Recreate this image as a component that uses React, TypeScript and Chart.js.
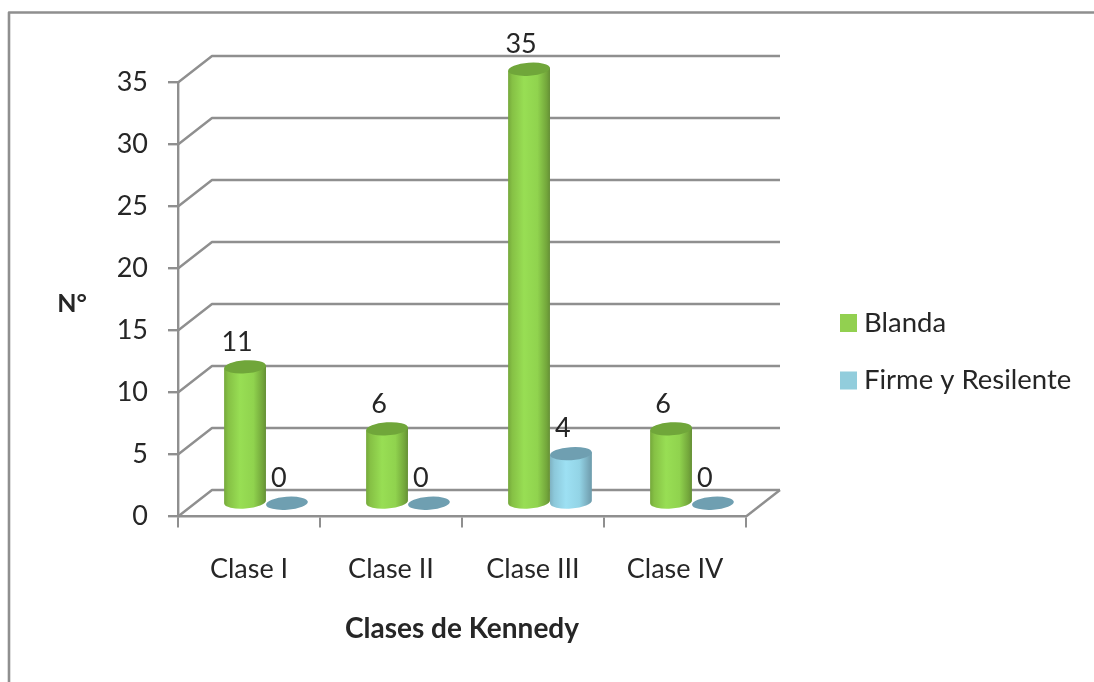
import React, { useEffect, useRef } from "react";
import { Chart, registerables } from "chart.js";

Chart.register(...registerables);

const categories = ["Clase I", "Clase II", "Clase III", "Clase IV"];
const blanda = [11, 6, 35, 6];
const firme = [0, 0, 4, 0];
const seriesNames = ["Blanda", "Firme y Resilente"];
const xTitle = "Clases de Kennedy";
const yTitle = "N°";

const GREY = "#8f8f8f";
const TEXT = "#262626";
const FONT = "Lato, Carlito, sans-serif";
const DEPTH_X = 34;
const DEPTH_Y = -26.5;
const SHADES: Record<number, { stops: [number, string][]; cap: string }> = {
  0: {
    stops: [[0, "#75a83b"], [0.1, "#86c145"], [0.38, "#98de54"], [0.7, "#90d34e"], [0.92, "#73a63b"], [1, "#658f36"]],
    cap: "#70a63a",
  },
  1: {
    stops: [[0, "#7fb2c2"], [0.1, "#8cc8da"], [0.38, "#9de0f3"], [0.7, "#93d4e6"], [0.92, "#78a9ba"], [1, "#6c9bab"]],
    cap: "#6f9fb1",
  },
};

const scene = {
  id: "scene",
  beforeDatasetsDraw(chart: any) {
    const { ctx, chartArea, scales } = chart;
    const y = scales.y;
    ctx.save();
    ctx.strokeStyle = GREY;
    ctx.lineWidth = 2.4;
    ctx.lineJoin = "round";
    y.ticks.forEach((t: any) => {
      const py = y.getPixelForValue(t.value);
      ctx.beginPath();
      ctx.moveTo(chartArea.left, py);
      ctx.lineTo(chartArea.left + DEPTH_X, py + DEPTH_Y);
      ctx.lineTo(chartArea.right + DEPTH_X, py + DEPTH_Y);
      ctx.stroke();
    });
    ctx.beginPath();
    ctx.moveTo(chartArea.right, chartArea.bottom);
    ctx.lineTo(chartArea.right + DEPTH_X, chartArea.bottom + DEPTH_Y);
    ctx.stroke();
    // horizontal title of the value axis
    ctx.fillStyle = TEXT;
    ctx.font = `bold 25px ${FONT}`;
    ctx.textAlign = "center";
    ctx.textBaseline = "middle";
    ctx.fillText(yTitle, 72, 304);
    // legend
    ctx.textAlign = "left";
    ctx.font = `27.5px ${FONT}`;
    chart.data.datasets.forEach((ds: any, d: number) => {
      const rowY = 323 + d * 57.5;
      ctx.fillStyle = ds.backgroundColor;
      ctx.fillRect(840, rowY - 9, 17, 18);
      ctx.fillStyle = TEXT;
      ctx.fillText(ds.label, 864, rowY);
    });
    // outer frame
    ctx.strokeStyle = GREY;
    ctx.lineWidth = 2.6;
    ctx.beginPath();
    ctx.moveTo(9, 682);
    ctx.lineTo(9, 12.5);
    ctx.lineTo(1094, 12.5);
    ctx.stroke();
    ctx.restore();
  },
  beforeDatasetDraw(chart: any, args: any) {
    const { ctx } = chart;
    const shade = SHADES[args.index];
    const ry = 6.5;
    const tilt = (-4 * Math.PI) / 180;
    ctx.save();
    args.meta.data.forEach((el: any) => {
      const { x, y, base, width } = el.getProps(["x", "y", "base", "width"], true);
      const cx = x + DEPTH_X / 2;
      const topY = y + DEPTH_Y / 2;
      const baseY = base + DEPTH_Y / 2;
      const rx = width / 2;
      const dy = rx * Math.sin(tilt);
      if (baseY - topY > 0.5) {
        const g = ctx.createLinearGradient(cx - rx, 0, cx + rx, 0);
        shade.stops.forEach(([o, c]) => g.addColorStop(o, c));
        ctx.fillStyle = g;
        ctx.beginPath();
        ctx.moveTo(cx - rx, topY - dy);
        ctx.lineTo(cx - rx, baseY - dy);
        ctx.ellipse(cx, baseY, rx, ry, tilt, Math.PI, 0, true);
        ctx.lineTo(cx + rx, topY + dy);
        ctx.closePath();
        ctx.fill();
      }
      ctx.fillStyle = shade.cap;
      ctx.beginPath();
      ctx.ellipse(cx, topY, rx, ry, tilt, 0, Math.PI * 2);
      ctx.fill();
    });
    ctx.restore();
    return false;
  },
  afterDatasetsDraw(chart: any) {
    const { ctx } = chart;
    ctx.save();
    ctx.fillStyle = TEXT;
    ctx.font = `27px ${FONT}`;
    ctx.textAlign = "center";
    ctx.textBaseline = "middle";
    chart.data.datasets.forEach((ds: any, d: number) => {
      chart.getDatasetMeta(d).data.forEach((el: any, i: number) => {
        ctx.fillText(String(ds.data[i]), el.x + DEPTH_X / 2 - 8, el.y + DEPTH_Y / 2 - 25);
      });
    });
    ctx.restore();
  },
};

export default function App() {
  const ref = useRef<HTMLCanvasElement>(null);
  useEffect(() => {
    const chart = new Chart(ref.current!, {
      type: "bar",
      data: {
        labels: categories,
        datasets: [
          { label: seriesNames[0], data: blanda, backgroundColor: "#92d050", borderWidth: 0 },
          { label: seriesNames[1], data: firme, backgroundColor: "#92cddc", borderWidth: 0 },
        ],
      },
      plugins: [scene],
      options: {
        responsive: false,
        animation: false,
        layout: { padding: { left: 0, top: 82.5, right: 348, bottom: 0 } },
        datasets: { bar: { categoryPercentage: 0.59, barPercentage: 1 } },
        scales: {
          x: {
            afterFit: (s: any) => {
              s.height = 165.5;
            },
            grid: { drawOnChartArea: false, color: GREY, lineWidth: 2, tickLength: 11 },
            border: { color: GREY, width: 2.4 },
            ticks: { color: TEXT, font: { family: FONT, size: 27 }, padding: 26, maxRotation: 0 },
            title: {
              display: true,
              text: xTitle,
              color: TEXT,
              font: { family: FONT, size: 28, weight: "bold" },
              padding: { top: 0, bottom: 36 },
            },
          },
          y: {
            min: 0,
            max: 35,
            afterFit: (s: any) => {
              s.width = 178;
            },
            grid: { drawOnChartArea: false, color: GREY, lineWidth: 2.4, tickLength: 10 },
            border: { color: GREY, width: 2.4 },
            ticks: { stepSize: 5, color: TEXT, font: { family: FONT, size: 27 }, padding: 20 },
          },
        },
        plugins: {
          title: { display: false },
          tooltip: { enabled: false },
          legend: { display: false },
        },
      } as any,
    });
    return () => chart.destroy();
  }, []);
  return (
    <div style={{ position: "absolute", left: 0, top: 0, width: 1094, height: 682, background: "#fff", overflow: "hidden" }}>
      <canvas ref={ref} width={1094} height={682} style={{ display: "block", filter: "blur(0.6px)" }} />
    </div>
  );
}
